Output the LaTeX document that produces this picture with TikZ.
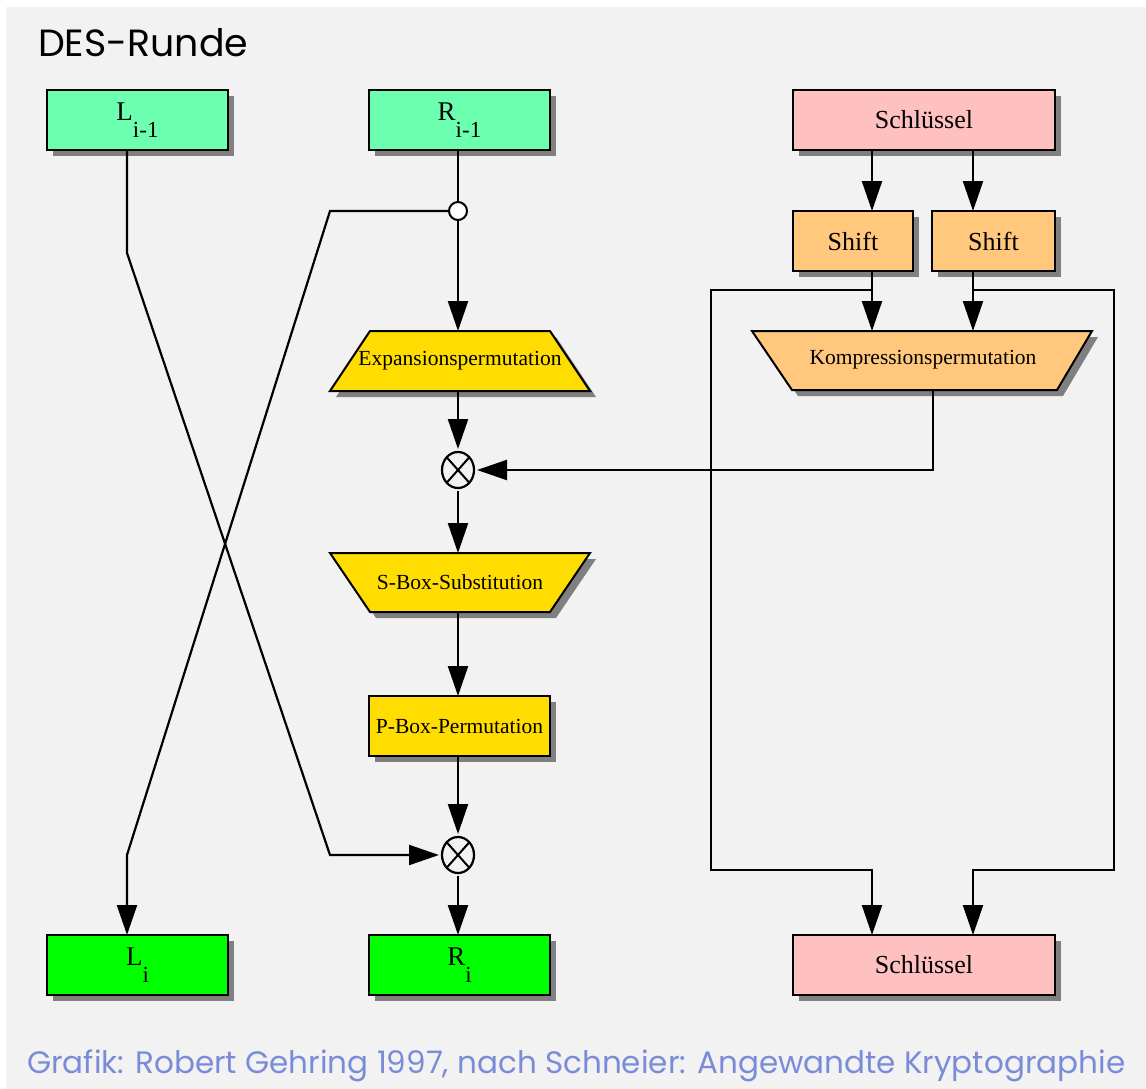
\documentclass[tikz,border=0pt]{standalone}
\usepackage{fontspec}
\usepackage{graphicx}
\setmainfont{Liberation Serif}
\newfontfamily\gothic{Poppins}
\usetikzlibrary{arrows.meta,shadows,shapes.geometric}

\definecolor{panel}{RGB}{242,242,242}
\definecolor{shade}{RGB}{128,128,128}
\definecolor{mint}{RGB}{108,255,176}
\definecolor{brightgreen}{RGB}{0,255,0}
\definecolor{keypink}{RGB}{255,192,192}
\definecolor{keyorange}{RGB}{255,200,124}
\definecolor{boxyellow}{RGB}{255,221,0}
\definecolor{credit}{RGB}{122,140,216}

% index set lowered below the main letter
\newcommand{\idx}[1]{\raisebox{-17pt}{\fontsize{23}{23}\selectfont #1}}

\begin{document}
\begin{tikzpicture}[x=1pt,y=-1pt,
  shd/.style={drop shadow={shadow xshift=6pt,shadow yshift=-6pt,fill=shade,opacity=1}},
  box/.style={draw=black,line width=2pt,inner sep=0pt,outer sep=0pt,anchor=north west,shd},
  trap/.style={draw=black,line width=2pt,line join=miter,shd},
  lbl/.style={inner sep=0pt,font=\fontsize{21.5}{21.5}\selectfont},
  conn/.style={line width=2.2pt,draw=black},
  arr/.style={conn,-{Triangle[length=30pt,width=20pt]}},
  xorop/.style={ellipse,draw=black,line width=2.2pt,fill=panel,minimum width=32pt,minimum height=36pt,inner sep=0pt,outer sep=3pt,
    path picture={\draw[line width=2pt] (path picture bounding box.north west) -- (path picture bounding box.south east)
      (path picture bounding box.north east) -- (path picture bounding box.south west);}},
  split/.style={circle,draw=black,line width=2pt,fill=white,minimum size=18pt,inner sep=0pt,outer sep=0pt}
]
% canvas and panel
\fill[white] (0,0) rectangle (1146,1089);
\fill[panel] (6,7) rectangle (1146,1089);
\useasboundingbox (0,0) rectangle (1146,1089);

% title and credit line
\node[anchor=base west,inner sep=0pt] (title) at (38,57) {\resizebox{210pt}{!}{\gothic DES-Runde}};
\node[anchor=base west,inner sep=0pt,text=credit] (credit) at (27,1073)
  {\resizebox{1098pt}{!}{\gothic Grafik: Robert Gehring 1997, nach Schneier: Angewandte Kryptographie}};

% column guides
\coordinate (cL) at (127,0);
\coordinate (cM) at (458,0);
\coordinate (k1) at (872,0);
\coordinate (k2) at (973,0);
\coordinate (kc) at (933,0);

% input halves and key
\node[box,fill=mint,minimum width=181pt,minimum height=60pt,font=\fontsize{27}{27}\selectfont] (Lprev) at (47,90)
  {L\idx{i-1}};
\node[box,fill=mint,minimum width=181pt,minimum height=60pt,font=\fontsize{27}{27}\selectfont] (Rprev) at (369,90)
  {R\idx{i-1}};
\node[box,fill=keypink,minimum width=262pt,minimum height=60pt,font=\fontsize{26}{26}\selectfont] (Kin) at (793,90) {Schlüssel};

% key shifts
\node[box,fill=keyorange,minimum width=120pt,minimum height=60pt,font=\fontsize{26}{26}\selectfont] (Sh1) at (793,211) {Shift};
\node[box,fill=keyorange,minimum width=123pt,minimum height=60pt,font=\fontsize{26}{26}\selectfont] (Sh2) at (932,211) {Shift};

% compression permutation
\draw[trap,fill=keyorange] (752,331) -- (1092,331) -- (1057,390) -- (792,390) -- cycle;
\node[lbl] (komp) at (923,360) {Kompressionspermutation};
\coordinate (kompTop) at (923,331);
\coordinate (kompBot) at (933,390);

% expansion permutation
\draw[trap,fill=boxyellow] (370,331) -- (550,331) -- (590,391) -- (330,391) -- cycle;
\node[lbl] (exp) at (460,361) {Expansionspermutation};
\coordinate (expTop) at (458,331);
\coordinate (expBot) at (458,391);

% first xor and S-boxes
\node[xorop] (x1) at (458,470) {};
\draw[trap,fill=boxyellow] (330,553) -- (590,553) -- (550,612) -- (370,612) -- cycle;
\node[lbl] (sbox) at (460,582) {S-Box-Substitution};
\coordinate (sTop) at (458,553);
\coordinate (sBot) at (458,612);

% P-box and second xor
\node[box,fill=boxyellow,minimum width=181pt,minimum height=60pt,font=\fontsize{21.5}{21.5}\selectfont] (Pbox) at (369,696) {P-Box-Permutation};
\node[xorop] (x2) at (458,855) {};

% outputs
\node[box,fill=brightgreen,minimum width=181pt,minimum height=60pt,font=\fontsize{27}{27}\selectfont] (Lcur) at (47,935)
  {L\idx{i}};
\node[box,fill=brightgreen,minimum width=181pt,minimum height=60pt,font=\fontsize{27}{27}\selectfont] (Rcur) at (369,935)
  {R\idx{i}};
\node[box,fill=keypink,minimum width=262pt,minimum height=60pt,font=\fontsize{26}{26}\selectfont] (Kout) at (793,935) {Schlüssel};

% split point of the right half
\node[split] (jn) at (458,211) {};

% bends of the crossing and key loops
\coordinate (bL) at (127,253);
\coordinate (bX) at (330,855);
\coordinate (bJ) at (330,211);
\coordinate (bY) at (127,855);
\coordinate (t1) at (872,290);
\coordinate (t2) at (973,290);

% left half crosses to the second xor
\draw[arr] (Lprev.south -| cL) -- (bL) -- (bX) -- (x2.west);
% right half crosses to the new left half
\draw[arr] (jn.west) -- (bJ) -- (bY) -- (Lcur.north -| cL);

% round function path
\draw[conn] (Rprev.south -| cM) -- (jn.north);
\draw[arr] (jn.south) -- (expTop);
\draw[arr] (expBot) -- (x1.north);
\draw[arr] (kompBot) -- (kompBot |- x1) -- (x1.east);
\draw[arr] (x1.south) -- (sTop);
\draw[arr] (sBot) -- (Pbox.north -| cM);
\draw[arr] (Pbox.south -| cM) -- (x2.north);
\draw[arr] (x2.south) -- (Rcur.north -| cM);

% key schedule
\draw[arr] (Kin.south -| k1) -- (Sh1.north -| k1);
\draw[arr] (Kin.south -| k2) -- (Sh2.north -| k2);
\draw[arr] (Sh1.south -| k1) -- (kompTop -| k1);
\draw[arr] (Sh2.south -| k2) -- (kompTop -| k2);
\draw[arr] (t1) -- (711,290) -- (711,870) -- (872,870) -- (Kout.north -| k1);
\draw[arr] (t2) -- (1114,290) -- (1114,870) -- (973,870) -- (Kout.north -| k2);
\end{tikzpicture}
\end{document}
